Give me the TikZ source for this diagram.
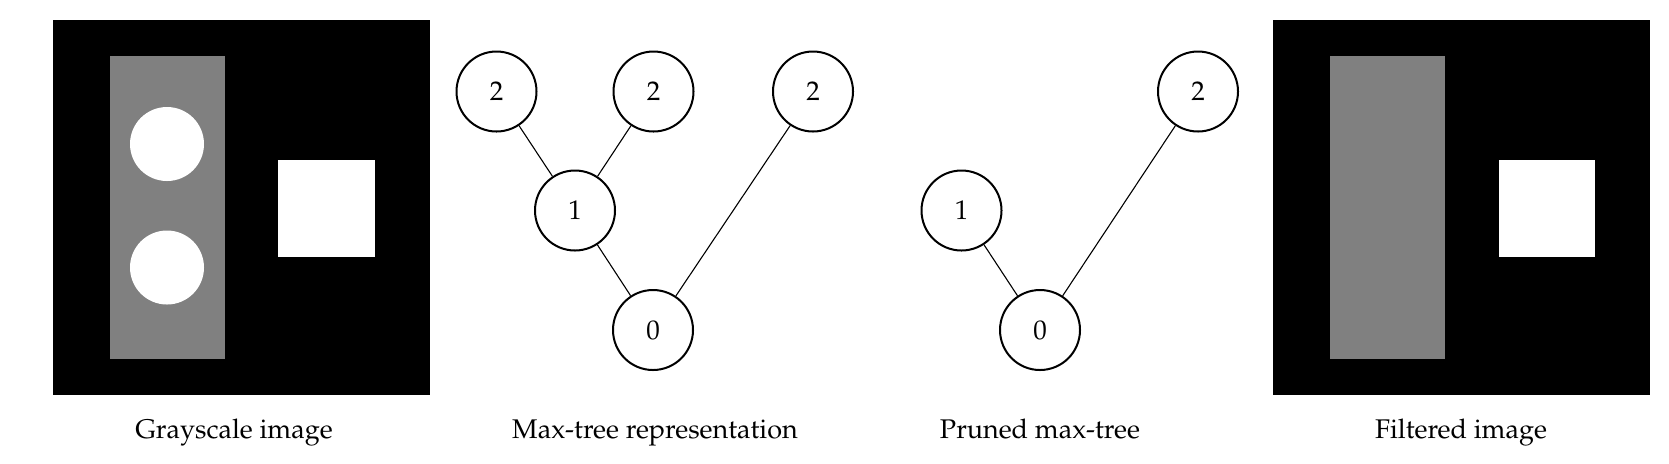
\documentclass[tikz,border=0pt]{standalone}
\usepackage[T1]{fontenc}
\usepackage{mathpazo}
\tikzset{
  px/.style={x=0.5pt,y=-0.5pt},
  treenode/.style={circle,draw=black,line width=1pt,minimum size=40pt,inner sep=0pt,font=\fontsize{13.5}{16}\selectfont},
  treeedge/.style={line width=0.55pt},
  caption/.style={font=\fontsize{13.5}{16}\selectfont,inner sep=0pt,anchor=base},
}
\definecolor{midgray}{gray}{0.5}
\begin{document}
\begin{tikzpicture}[px]
\useasboundingbox (0,0) rectangle (1669,463);
% Grayscale image
\fill[black] (53,19.5) rectangle (430,395);
\fill[midgray] (110,56) rectangle (224.5,359);
\fill[white] (167,144) circle[radius=37];
\fill[white] (167,267.5) circle[radius=37];
\fill[white] (278,160) rectangle (375,256.5);
% Filtered image
\fill[black] (1273,19.5) rectangle (1649.5,395);
\fill[midgray] (1330,56) rectangle (1445,359);
\fill[white] (1499,160) rectangle (1595,256.5);
% Max-tree
\node[treenode] (a2) at (496.5,91.5) {2};
\node[treenode] (b2) at (653.5,91.5) {2};
\node[treenode] (c2) at (813,91.5) {2};
\node[treenode] (m1) at (575,210.5) {1};
\node[treenode] (m0) at (653,330) {0};
\draw[treeedge] (a2) -- (m1);
\draw[treeedge] (b2) -- (m1);
\draw[treeedge] (m1) -- (m0);
\draw[treeedge] (c2) -- (m0);
% Pruned tree
\node[treenode] (p2) at (1198,91.5) {2};
\node[treenode] (p1) at (961.5,210.5) {1};
\node[treenode] (p0) at (1040,330) {0};
\draw[treeedge] (p1) -- (p0);
\draw[treeedge] (p2) -- (p0);
% Captions
\node[caption] (t1) at (234,438) {Grayscale image};
\node[caption] (t2) at (655,438) {Max-tree representation};
\node[caption] (t3) at (1040,438) {Pruned max-tree};
\node[caption] (t4) at (1461,438) {Filtered image};
\end{tikzpicture}
\end{document}
